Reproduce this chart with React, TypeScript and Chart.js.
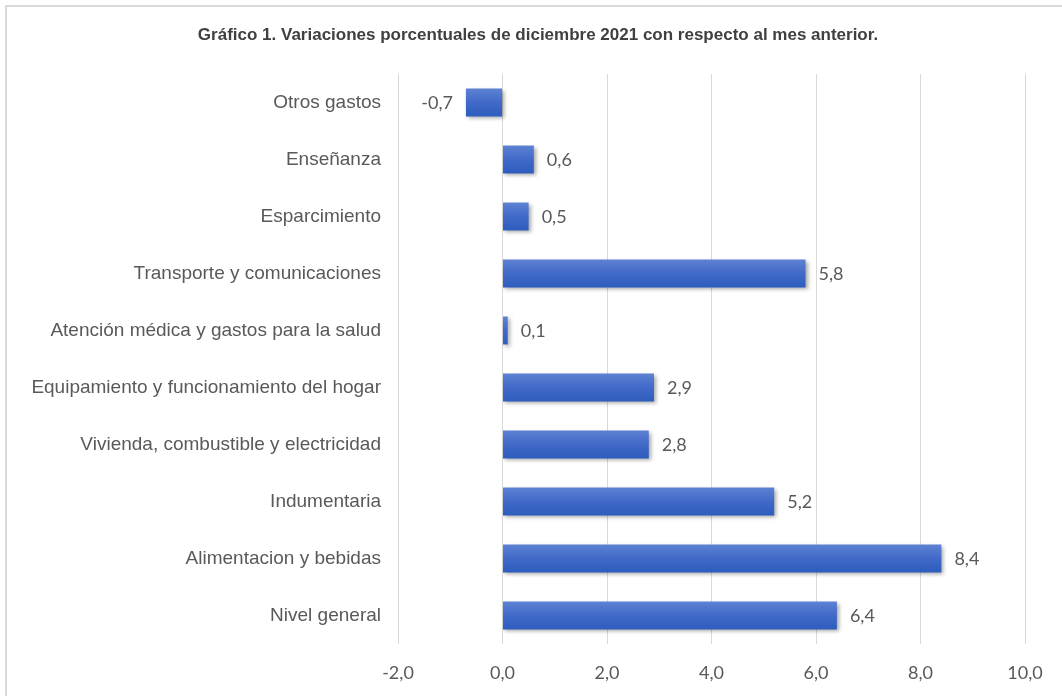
import React, { useEffect, useRef } from "react";
import { Chart, registerables } from "chart.js";

Chart.register(...registerables);

const TITLE = "Gráfico 1. Variaciones porcentuales de diciembre 2021 con respecto al mes anterior.";
const categories = [
  "Otros gastos",
  "Enseñanza",
  "Esparcimiento",
  "Transporte y comunicaciones",
  "Atención médica y gastos para la salud",
  "Equipamiento y funcionamiento del hogar",
  "Vivienda, combustible y electricidad",
  "Indumentaria",
  "Alimentacion y bebidas",
  "Nivel general",
];
const values = [-0.7, 0.6, 0.5, 5.8, 0.1, 2.9, 2.8, 5.2, 8.4, 6.4];
const xMin = -2;
const xMax = 10;
const xStep = 2;

const fmt = (v: number) => v.toFixed(1).replace(".", ",");

export default function App() {
  const ref = useRef<HTMLCanvasElement | null>(null);

  useEffect(() => {
    const canvas = ref.current;
    if (!canvas) return;

    const titlePlugin = {
      id: "titleText",
      afterDraw(chart: any) {
        const ctx = chart.ctx;
        ctx.save();
        ctx.font = "bold 17px 'Liberation Sans', Arial, sans-serif";
        ctx.fillStyle = "#404040";
        ctx.textAlign = "center";
        ctx.textBaseline = "middle";
        ctx.fillText(TITLE, 538, 35);
        ctx.restore();
      },
    };

    const shadowPlugin = {
      id: "barShadow",
      beforeDatasetsDraw(chart: any) {
        const ctx = chart.ctx;
        ctx.save();
        ctx.shadowColor = "rgba(0,0,0,0.35)";
        ctx.shadowBlur = 4;
        ctx.shadowOffsetX = 2;
        ctx.shadowOffsetY = 2;
      },
      afterDatasetsDraw(chart: any) {
        chart.ctx.restore();
      },
    };

    const labelPlugin = {
      id: "valueLabels",
      afterDatasetsDraw(chart: any) {
        const ctx = chart.ctx;
        const meta = chart.getDatasetMeta(0);
        ctx.save();
        ctx.font = "18px Lato, sans-serif";
        ctx.fillStyle = "#595959";
        ctx.textBaseline = "middle";
        meta.data.forEach((el: any, i: number) => {
          const v = values[i];
          if (v < 0) {
            ctx.textAlign = "right";
            ctx.fillText(fmt(v), el.x - 13, el.y + 1);
          } else {
            ctx.textAlign = "left";
            ctx.fillText(fmt(v), el.x + 13, el.y + 1);
          }
        });
        ctx.restore();
      },
    };

    const chart = new Chart(canvas, {
      type: "bar",
      data: {
        labels: categories,
        datasets: [
          {
            data: values,
            backgroundColor: (ctx: any) => {
              const c = ctx.chart;
              const y = c.scales && c.scales.y;
              if (ctx.dataIndex === undefined || !y) return "#4169c8";
              const py = y.getPixelForValue(ctx.dataIndex);
              if (!Number.isFinite(py)) return "#4169c8";
              const g = c.ctx.createLinearGradient(0, py - 14, 0, py + 14);
              g.addColorStop(0, "#5d82d3");
              g.addColorStop(0.5, "#4169c8");
              g.addColorStop(1, "#2d5dbd");
              return g;
            },
            borderWidth: 0,
            categoryPercentage: 1,
            barPercentage: 0.49,
          },
        ],
      },
      options: {
        indexAxis: "y",
        animation: false,
        responsive: false,
        maintainAspectRatio: false,
        events: [],
        layout: { padding: { top: 74, right: 37, bottom: 0, left: 0 } },
        plugins: {
          legend: { display: false },
          title: { display: false },
          tooltip: { enabled: false },
        },
        scales: {
          x: {
            min: xMin,
            max: xMax,
            ticks: {
              stepSize: xStep,
              padding: 18,
              color: "#595959",
              font: { family: "Lato, sans-serif", size: 18 },
              callback: (v: any) => fmt(Number(v)),
            },
            grid: { color: "#d9d9d9", lineWidth: 1, drawTicks: false },
            border: { display: false },
            afterFit: (s: any) => {
              s.height = 52;
            },
          },
          y: {
            ticks: {
              padding: 17,
              color: "#595959",
              font: { family: "'Liberation Sans', Arial, sans-serif", size: 19 },
            },
            grid: { display: false, drawTicks: false },
            border: { display: false },
            afterFit: (s: any) => {
              s.width = 398;
            },
          },
        },
      },
      plugins: [titlePlugin, shadowPlugin, labelPlugin],
    } as any);

    return () => chart.destroy();
  }, []);

  return (
    <div
      style={{
        position: "fixed",
        left: 0,
        top: 0,
        width: 1062,
        height: 696,
        overflow: "hidden",
        background: "#ffffff",
      }}
    >
      <div
        style={{
          position: "absolute",
          left: 5,
          top: 5,
          width: 1200,
          height: 900,
          border: "2px solid #d9d9d9",
          boxSizing: "border-box",
        }}
      />
      <canvas
        ref={ref}
        width={1062}
        height={696}
        style={{ position: "absolute", left: 0, top: 0, width: 1062, height: 696 }}
      />
    </div>
  );
}
